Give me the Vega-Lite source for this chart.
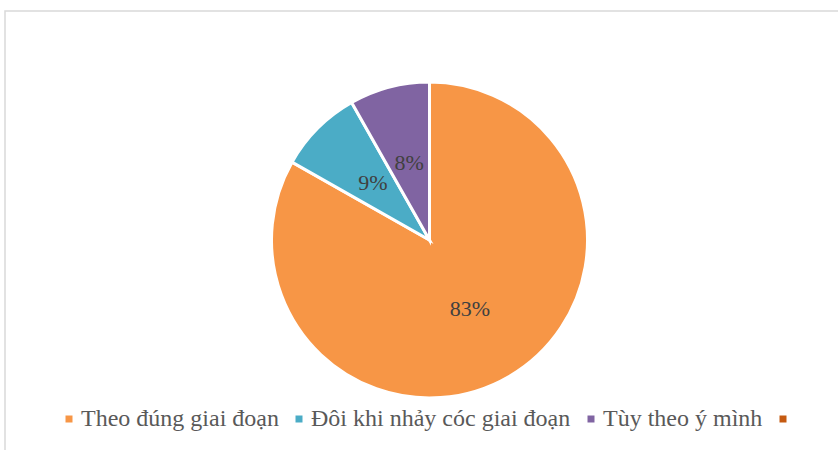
{
  "$schema": "https://vega.github.io/schema/vega-lite/v6.json",
  "autosize": {"type": "none"},
  "width": 833,
  "height": 439,
  "padding": {"left": 5, "top": 11, "right": 0, "bottom": 0},
  "background": "white",
  "config": {
    "view": {"stroke": null},
    "font": "Liberation Serif"
  },
  "data": {
    "values": [
      {"category": "Theo đúng giai đoạn", "share": 0.832, "order": 1},
      {"category": "Đôi khi nhảy cóc giai đoạn", "share": 0.086, "order": 2},
      {"category": "Tùy theo ý mình", "share": 0.082, "order": 3}
    ]
  },
  "layer": [
    {
      "data": {"values": [{"frame": 1}]},
      "mark": {"type": "rect", "fill": "transparent", "stroke": "#d9d9d9", "strokeWidth": 1.5},
      "encoding": {
        "x": {"datum": 0, "type": "quantitative", "scale": {"domain": [0, 1], "nice": false, "zero": false}, "axis": null},
        "x2": {"datum": 1.05},
        "y": {"datum": 1, "type": "quantitative", "scale": {"domain": [0, 1], "nice": false, "zero": false}, "axis": null},
        "y2": {"datum": -0.05}
      }
    },
    {
      "mark": {"type": "arc", "outerRadius": 158, "stroke": "white", "strokeWidth": 3, "xOffset": 8, "yOffset": 9.5},
      "encoding": {
        "theta": {"field": "share", "type": "quantitative", "stack": true},
        "order": {"field": "order", "type": "quantitative"},
        "color": {
          "field": "category",
          "type": "nominal",
          "scale": {
            "domain": ["Theo đúng giai đoạn", "Đôi khi nhảy cóc giai đoạn", "Tùy theo ý mình", ""],
            "range": ["#F79646", "#4BACC6", "#8064A2", "#C55A11"]
          },
          "legend": {
            "title": null,
            "orient": "none",
            "direction": "horizontal",
            "legendX": 52,
            "legendY": 396,
            "padding": 0,
            "symbolType": "square",
            "symbolSize": 49,
            "symbolStrokeWidth": 0,
            "symbolOpacity": 1,
            "labelFont": "Liberation Serif",
            "labelFontSize": 24,
            "labelColor": "#595959",
            "labelOffset": 0,
            "columnPadding": 8,
            "labelLimit": 400
          }
        }
      }
    },
    {
      "mark": {"type": "text", "radius": 80, "fontSize": 22, "font": "Liberation Serif", "color": "#404040", "xOffset": 8, "yOffset": 9.5},
      "encoding": {
        "theta": {"field": "share", "type": "quantitative", "stack": true},
        "order": {"field": "order", "type": "quantitative"},
        "text": {"field": "share", "type": "quantitative", "format": ".0%"}
      }
    }
  ]
}
